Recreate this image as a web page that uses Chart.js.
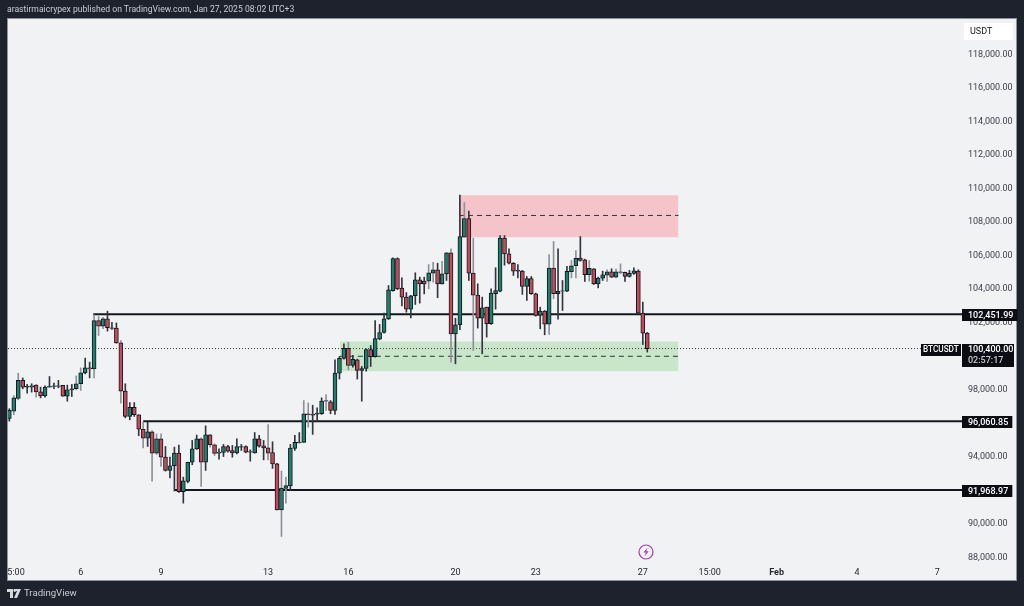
<!DOCTYPE html>
<html lang="en">
<head>
<meta charset="UTF-8">
<title>BTCUSDT</title>
<script src="https://cdn.jsdelivr.net/npm/chart.js"></script>
<style>
    html, body { margin: 0; padding: 0; background: #1e222d; overflow: hidden; }
    #wrap { position: relative; width: 1024px; height: 606px; }
    canvas { display: block; }
    #head { position: absolute; left: 7px; top: 4px; font: 8.6px Roboto, sans-serif; color: #c9ccd3; white-space: nowrap; }
    #foot { position: absolute; left: 24px; top: 587px; font: 9.6px Roboto, sans-serif; color: #c9ccd3; }
    #logo { position: absolute; left: 7px; top: 589px; }
    #bolt { position: absolute; left: 638px; top: 544px; }
</style>
</head>
<body>
<div id="wrap">
    <canvas id="chart" width="1024" height="606"></canvas>
    <div id="head">arastirmaicrypex published on TradingView.com, Jan 27, 2025 08:02 UTC+3</div>
    <svg id="logo" width="14" height="9" viewBox="0 0 14 9"><path d="M0 0h6v9H3V3H0z M7 0h7l-4 9H7l3-7H7z" fill="#d5d8de"/><circle cx="7.8" cy="1.5" r="1.4" fill="#d5d8de"/></svg>
    <div id="foot">TradingView</div>
    <svg id="bolt" width="16" height="16" viewBox="0 0 16 16"><circle cx="8" cy="8" r="7" fill="none" stroke="#a23cb4" stroke-width="1.2"/><path d="M9.5 3.5 5.5 8.6h2.4L6.6 12.4l4-5.1H8.2z" fill="#a23cb4"/></svg>
</div>
<script>
    // 4h candles, first one is bar 0
    const opens = [96230,96670,97420,98500,98100,98100,98220,97820,97580,98100,98140,98140,98200,97560,97940,98000,98300,98950,99250,99190,102070,101740,102170,101640,101620,100740,97860,96350,96890,96450,95590,95060,95430,94160,95020,93920,93130,93410,94160,91860,92470,93620,94420,95020,93620,95260,94660,94160,94200,94560,94320,94180,94520,94560,94220,94180,95020,94600,94480,94200,93520,90780,92050,92210,94440,94780,94800,96510,96470,96490,96510,97260,97220,96710,98930,99810,100420,99390,99730,99090,99210,100340,99910,100960,101360,102170,103860,105770,104000,103470,102750,103550,104500,104420,104420,104900,105100,104260,104860,106110,101280,101820,107040,108160,104900,103590,102210,102870,101880,103670,103820,106990,106050,105490,105020,105020,104100,104580,103670,102370,102630,101860,105200,103670,103820,103820,104980,105340,105790,105690,104800,105160,104260,104600,104780,104980,104660,104940,104940,104700,104880,105020,102510,101320];
    const highs = [96810,97600,98930,98650,98260,98300,98260,98100,98180,98730,98340,98500,98200,98220,98260,98770,99250,99830,99590,102410,102310,102270,102630,101970,101930,100880,98300,97180,97180,96450,96010,96010,95510,95310,95310,94560,93920,94520,94640,92730,93620,94920,95240,95080,95790,95280,94720,94420,94680,94620,94620,95020,94680,94600,94360,95390,95220,94920,95870,94840,93560,93090,92730,94680,95220,95390,97300,97160,97020,96870,97460,97660,97300,99730,99930,100680,100780,99990,99770,99330,100380,100580,102070,101840,102510,104160,105810,105810,104620,103740,103570,104920,104660,104660,105410,105550,105490,105610,106110,106350,102210,109550,109110,108600,106990,104260,103470,102870,103960,105220,107140,107140,106350,105530,105410,105060,104700,104700,103710,102870,102670,106010,106790,106350,104460,105300,105650,106250,107080,105730,105650,105160,104660,105020,105100,105160,105140,105450,104960,105060,105220,105100,103170,101360];
    const lows = [96070,96450,97340,98000,97740,97800,97500,97460,97500,98100,98000,98060,97560,97260,97540,97940,97900,98890,98650,98650,101180,101580,101440,101540,100720,97140,96270,96150,96350,95200,94480,94560,92490,94080,93370,93090,92690,91900,91820,91180,92390,93470,94380,92170,93130,94520,94020,93800,93960,94220,93920,94120,94320,94180,93680,94160,94520,93760,93760,93250,90780,89190,91180,91940,94320,94760,94780,95710,95280,96070,96470,96710,96510,96470,98580,99770,99130,99290,98580,97260,99050,99330,99890,100920,101320,102130,103820,103920,102950,102570,102230,103030,103110,103660,103960,104360,103430,104220,104460,99590,99490,101520,107040,104460,100290,101620,100090,101080,101840,102750,103780,105370,105450,104760,104620,103630,103270,103630,102330,101580,101220,101240,103370,102150,102670,103800,104620,104620,105610,104400,104420,104220,104020,104460,104400,104640,104620,104860,104400,104660,104820,102470,100640,100190];
    const closes = [96710,97460,98500,98100,98140,98180,97820,97580,98100,98160,98180,98180,97560,97940,98000,98300,98950,99250,99190,102070,101740,102170,101640,101600,100740,97860,96350,96890,96450,95590,95060,95430,94160,95020,93920,93130,93410,94160,91860,92510,93620,94420,95020,93620,95260,94660,94140,94220,94560,94280,94180,94560,94560,94220,94260,95020,94580,94480,94160,93520,90780,92070,92230,94460,94800,94820,96510,96450,96430,96530,97260,97300,96710,98930,99810,100420,99390,99750,99090,99210,100340,99910,101000,101360,102170,103900,105770,103960,103470,102750,103550,104500,104260,104260,104920,105100,104260,104860,106110,101280,101820,107080,108160,104900,103590,102210,102830,101880,103710,103860,106990,106050,105490,105020,105060,104100,104580,103670,102370,102630,101860,105200,103670,103820,103840,105000,105340,105790,105650,104800,105180,104260,104600,104800,104980,104660,104980,104980,104700,104880,105040,102510,101320,100400];

    // bars whose wick reads as soft grey in the picture
    const greyWicks = [1,2,6,15,16,19,20,21,25,30,32,33,34,43,45,46,58,61,62,66,67,71,76,94,95,97,99,102,104,121,122,126,127,130,134,136,137];

    const priceTicks = [88000,90000,92000,94000,96000,98000,100000,102000,104000,106000,108000,110000,112000,114000,116000,118000];
    const timeTicks = [1.5,16,34,58,76,100,118,142,157,172,190,208];
    const timeLabels = ['5:00','6','9','13','16','20','23','27','15:00','Feb','4','7'];

    // drawn levels: price, first bar
    const levelPrices = [102451.99, 96060.85, 91968.97];
    const levelStarts = [18.8, 30, 37];
    const lastPrice = 100400;
    const countdown = '02:57:17';
    const redZone = [109550, 107040, 108340];   // top, bottom, middle
    const greenZone = [100820, 99050, 99940];
    const redZoneBars = [100.8, 150];
    const greenZoneBars = [74.1, 150];

    const fontName = 'Roboto, sans-serif';
    const upColor = '#1f7f6c';
    const downColor = '#c24a59';
    const edge = '#14171f';

    const fmt = v => v.toLocaleString('en-US', { minimumFractionDigits: 2, maximumFractionDigits: 2 });

    function flatLine(x0, x1, y, extra) {
        return Object.assign({
            type: 'line',
            data: [{ x: x0, y: y }, { x: x1, y: y }],
            pointRadius: 0,
            borderColor: edge,
            borderWidth: 2,
            order: 3
        }, extra);
    }

    const panel = {
        id: 'panel',
        beforeDraw(chart) {
            const c = chart.ctx, a = chart.chartArea;
            c.save();
            c.fillStyle = '#f1f2f4';
            c.fillRect(a.left, a.top, chart.width - 8 - a.left, chart.height - 26 - a.top);
            c.strokeStyle = '#8d929e';
            c.lineWidth = 1;
            c.strokeRect(a.left - 0.5, a.top - 0.5, chart.width - 8 - a.left + 1, chart.height - 26 - a.top + 1);
            c.fillStyle = '#ffffff';
            c.fillRect(964, 23, 49, 17);
            c.fillStyle = '#131722';
            c.font = '9px ' + fontName;
            c.textBaseline = 'middle';
            c.fillText('USDT', 970, 32);
            c.restore();
        },
        afterDraw(chart) {
            const c = chart.ctx, y = chart.scales.y;
            c.save();
            c.textBaseline = 'middle';
            c.font = '500 9px ' + fontName;
            levelPrices.forEach(p => {
                const py = Math.round(y.getPixelForValue(p)) + 1;
                const txt = fmt(p);
                c.fillStyle = '#0b0d12';
                c.fillRect(962, py - 6, c.measureText(txt).width + 10, 12);
                c.fillStyle = '#ffffff';
                c.fillText(txt, 968, py + 0.5);
            });
            const py = Math.round(y.getPixelForValue(lastPrice));
            c.fillStyle = '#0b0d12';
            c.fillRect(962, py - 5, 52, 23);
            c.fillRect(921, py - 5, 40, 12);
            c.fillStyle = '#ffffff';
            c.fillText(fmt(lastPrice), 968, py + 1);
            c.fillStyle = '#c8cbd2';
            c.fillText(countdown, 968, py + 12);
            c.fillStyle = '#ffffff';
            c.font = '500 8.2px ' + fontName;
            c.fillText('BTCUSDT', 923, py + 1);
            c.restore();
        }
    };

    const bars = opens.map((_, i) => i);

    new Chart(document.getElementById('chart'), {
        data: {
            datasets: [
                {
                    type: 'bar',
                    data: bars.map(i => ({ x: i, y: [Math.min(opens[i], closes[i]), Math.max(opens[i], closes[i])] })),
                    backgroundColor: bars.map(i => closes[i] >= opens[i] ? upColor : downColor),
                    borderColor: edge,
                    borderWidth: 1,
                    borderSkipped: false,
                    barThickness: 4,
                    grouped: false,
                    order: 1
                },
                {
                    type: 'bar',
                    data: bars.map(i => ({ x: i, y: [lows[i], highs[i]] })),
                    backgroundColor: bars.map(i => greyWicks.includes(i) ? '#8f9198' : '#33363e'),
                    barThickness: 1,
                    grouped: false,
                    order: 2
                },
                ...levelPrices.map((p, i) => flatLine(levelStarts[i], 214, p)),
                flatLine(-0.3, 204.4, lastPrice, { borderWidth: 1, borderDash: [1, 2], borderColor: '#3a3d45' }),
                flatLine(redZoneBars[0], redZoneBars[1], redZone[2], { borderWidth: 1, borderDash: [5, 4], borderColor: '#333' }),
                flatLine(greenZoneBars[0], greenZoneBars[1], greenZone[2], { borderWidth: 1, borderDash: [5, 4], borderColor: '#333' }),
                flatLine(redZoneBars[0], redZoneBars[1], redZone[0], { borderWidth: 0, fill: { value: redZone[1] }, backgroundColor: '#f5c4cb', order: 5 }),
                flatLine(greenZoneBars[0], greenZoneBars[1], greenZone[0], { borderWidth: 0, fill: { value: greenZone[1] }, backgroundColor: '#c9e5ca', order: 5 })
            ]
        },
        options: {
            responsive: false,
            animation: false,
            layout: { autoPadding: false, padding: { left: 8, top: 19, right: 8, bottom: 26 } },
            plugins: { legend: { display: false }, tooltip: { enabled: false } },
            scales: {
                x: {
                    type: 'linear',
                    offset: false,
                    min: -0.3,
                    max: 214,
                    grid: { display: false, drawTicks: false },
                    border: { display: false },
                    afterFit(s) { s.height = 18; },
                    afterBuildTicks(s) { s.ticks = timeTicks.map(v => ({ value: v })); },
                    ticks: {
                        autoSkip: false,
                        maxRotation: 0,
                        padding: 5,
                        color: '#26282e',
                        font: ctx => ({ family: fontName, size: 9, weight: ctx.index === 9 ? 'bold' : 'normal' }),
                        callback: (v, i) => timeLabels[i]
                    }
                },
                y: {
                    type: 'linear',
                    position: 'right',
                    min: 87668,
                    max: 120058,
                    grid: { display: false, drawTicks: false },
                    border: { display: false },
                    afterFit(s) { s.width = 52; },
                    afterBuildTicks(s) { s.ticks = priceTicks.map(v => ({ value: v })); },
                    ticks: {
                        padding: 4,
                        labelOffset: 1,
                        color: '#3c3f47',
                        font: { family: fontName, size: 9 },
                        callback: v => fmt(v)
                    }
                }
            }
        },
        plugins: [panel]
    });
</script>
</body>
</html>
